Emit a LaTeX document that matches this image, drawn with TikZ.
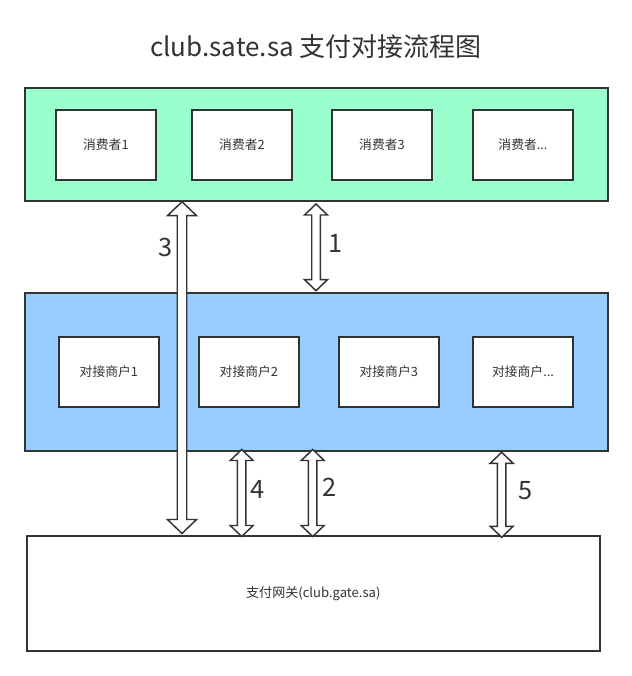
\documentclass[tikz,border=0pt]{standalone}
\usepackage{fontspec}
\setmainfont{Noto Sans CJK SC}
\usetikzlibrary{calc}
\definecolor{ink}{HTML}{333333}
\definecolor{mint}{HTML}{99FFCC}
\definecolor{sky}{HTML}{99CCFF}
\tikzset{
  panel/.style={draw=ink, line width=1.5pt, inner sep=0pt},
  itembox/.style={draw=ink, fill=white, line width=1.5pt, inner sep=0pt,
    minimum width=75.4pt, minimum height=52.7pt, text=ink,
    font=\fontsize{9.6pt}{11pt}\selectfont},
  numlbl/.style={text=ink, inner sep=0pt, font=\fontsize{19pt}{22pt}\selectfont},
  arrowline/.style={draw=ink, fill=white, line width=1.1pt, line join=miter},
}
\newcommand\hollowarr[5]{%
  \draw[arrowline] let \p1=(#1), \p2=(#2) in
    (\x1,\y1) -- (\x1+#4,\y1-#5) -- (\x1+#3,\y1-#5) -- (\x1+#3,\y2+#5)
    -- (\x1+#4,\y2+#5) -- (\x1,\y2) -- (\x1-#4,\y2+#5) -- (\x1-#3,\y2+#5)
    -- (\x1-#3,\y1-#5) -- (\x1-#4,\y1-#5) -- cycle;}
\begin{document}
\begin{tikzpicture}[x=0.75pt,y=-0.75pt]
\useasboundingbox[fill=white] (0,0) rectangle (632,676);

\node[text=ink, inner sep=0pt, font=\fontsize{19.5pt}{23pt}\selectfont] (title) at (316,47) {club.sate.sa 支付对接流程图};

% consumers panel
\node[panel, fill=mint, minimum width=437.25pt, minimum height=84.75pt] (green) at (316.5,144.5) {};
\node[itembox] (c1) at (105.9,144.8) {消费者1};
\node[itembox] (c2) at (242,144.8) {消费者2};
\node[itembox] (c3) at (382,144.8) {消费者3};
\node[itembox] (c4) at (523,144.8) {消费者...};

% merchants panel
\node[panel, fill=sky, minimum width=437.25pt, minimum height=118.5pt] (blue) at (316,371.7) {};
\node[itembox] (m1) at (108.9,371.9) {对接商户1};
\node[itembox] (m2) at (248.9,371.9) {对接商户2};
\node[itembox] (m3) at (388.8,371.9) {对接商户3};
\node[itembox] (m4) at (523,371.9) {对接商户...};

% gateway
\node[panel, fill=white, minimum width=429.5pt, minimum height=86.25pt, text=ink,
  font=\fontsize{9.8pt}{11pt}\selectfont] (gate) at (313.3,593.2) {支付网关(club.gate.sa)};

% arrow end points
\coordinate (a1t) at (316,204);   \coordinate (a1b) at (316,290.7);
\coordinate (a3t) at (182,201.7); \coordinate (a3b) at (182,533.5);
\coordinate (a4t) at (241.7,449.5); \coordinate (a4b) at (241.7,536.5);
\coordinate (a2t) at (312.7,449.5); \coordinate (a2b) at (312.7,536.5);
\coordinate (a5t) at (501.7,452.3); \coordinate (a5b) at (501.7,537.3);

\hollowarr{a1t}{a1b}{3.2pt}{8.6pt}{8.25pt}
\hollowarr{a3t}{a3b}{3.56pt}{10.9pt}{10.5pt}
\hollowarr{a4t}{a4b}{3.2pt}{8.6pt}{8.25pt}
\hollowarr{a2t}{a2b}{3.2pt}{8.6pt}{8.25pt}
\hollowarr{a5t}{a5b}{3.2pt}{8.6pt}{8.25pt}

\node[numlbl] (l1) at (336,243) {1};
\node[numlbl] (l3) at (166,247) {3};
\node[numlbl] (l4) at (257.5,489) {4};
\node[numlbl] (l2) at (330,487) {2};
\node[numlbl] (l5) at (525.8,491) {5};
\end{tikzpicture}
\end{document}
